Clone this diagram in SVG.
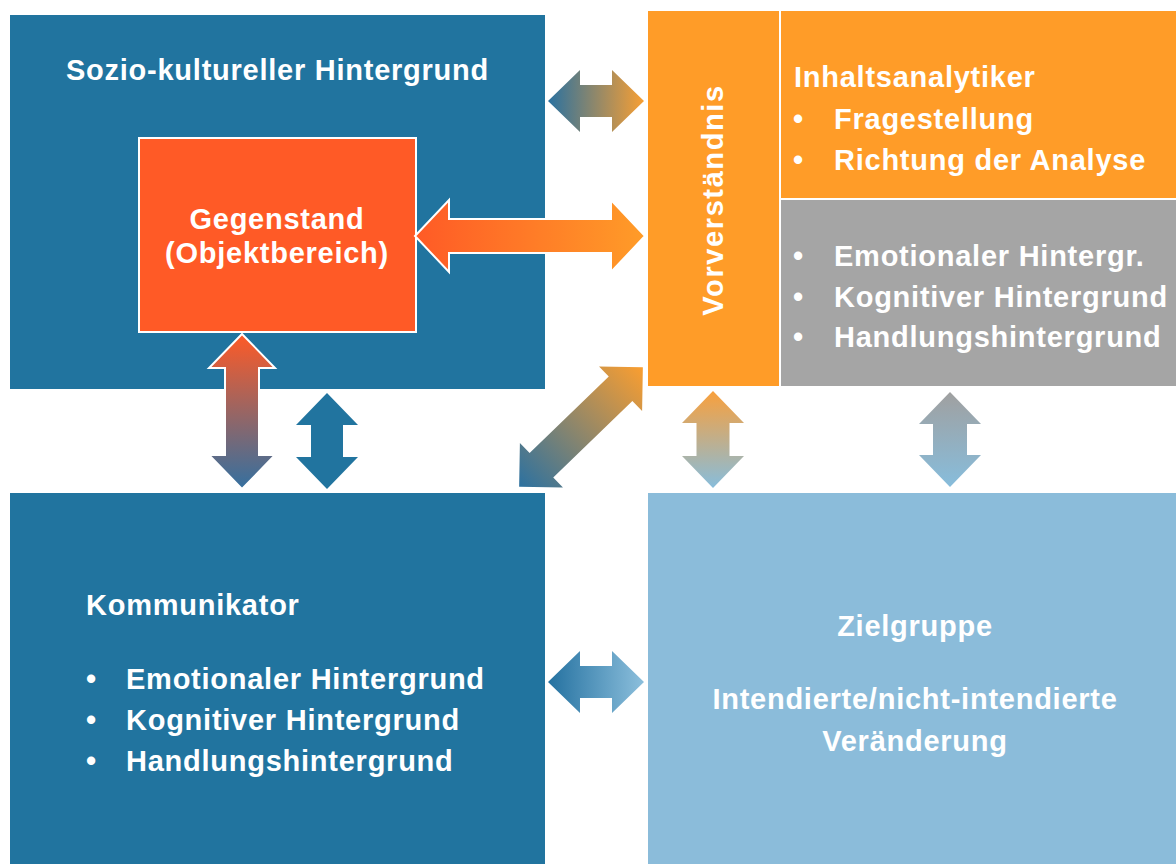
<svg xmlns="http://www.w3.org/2000/svg" width="1176" height="864" viewBox="0 0 1176 864">
<defs>
<style>
.t{font-family:"Liberation Sans",Arial,sans-serif;font-weight:bold;font-size:29px;fill:#fff;letter-spacing:0.75px}
.m{text-anchor:middle}
.box{stroke:#fff;stroke-width:2}
.blue{fill:#21749F}
.orange{fill:#FF9C28}
.grey{fill:#A5A5A5}
.light{fill:#8BBCDA}
.red{fill:#FF5A26}
</style>
<linearGradient id="g1" x1="0" y1="0" x2="1" y2="0"><stop offset="0" stop-color="#2A71A0"/><stop offset="1" stop-color="#F89F33"/></linearGradient>
<linearGradient id="g2" x1="0" y1="0" x2="1" y2="0"><stop offset="0" stop-color="#FF5A26"/><stop offset="1" stop-color="#FF9C28"/></linearGradient>
<linearGradient id="g3" x1="0" y1="0" x2="1" y2="0"><stop offset="0" stop-color="#FF5A26"/><stop offset="1" stop-color="#3470A0"/></linearGradient>
<linearGradient id="g5" x1="0" y1="0" x2="1" y2="0"><stop offset="0" stop-color="#2C71A0"/><stop offset="1" stop-color="#FA9E30"/></linearGradient>
<linearGradient id="g6" x1="0" y1="0" x2="1" y2="0"><stop offset="0" stop-color="#F9A03C"/><stop offset="1" stop-color="#87BDDC"/></linearGradient>
<linearGradient id="g7" x1="0" y1="0" x2="1" y2="0"><stop offset="0" stop-color="#A0A0A0"/><stop offset="1" stop-color="#87BDDC"/></linearGradient>
<linearGradient id="g8" x1="0" y1="0" x2="1" y2="0"><stop offset="0" stop-color="#2471A0"/><stop offset="1" stop-color="#8CBFDC"/></linearGradient>
</defs>
<rect width="1176" height="864" fill="#fff"/>

<g id="sozio">
<rect class="box blue" x="9" y="14" width="537" height="376"/>
<text class="t" x="66" y="80">Sozio-kultureller Hintergrund</text>
</g>

<g id="vorverstaendnis">
<rect class="box orange" x="647" y="10" width="133" height="377"/>
<text class="t m" transform="translate(723,200) rotate(-90)" style="letter-spacing:1.6px">Vorverständnis</text>
</g>

<g id="inhaltsanalytiker">
<rect class="box orange" x="780" y="10" width="398" height="189"/>
<text class="t" x="794" y="87">Inhaltsanalytiker</text>
<text class="t" x="793" y="129">•</text><text class="t" x="834" y="129">Fragestellung</text>
<text class="t" x="793" y="170">•</text><text class="t" x="834" y="170">Richtung der Analyse</text>
</g>

<g id="hintergrund">
<rect class="box grey" x="780" y="199" width="398" height="188"/>
<text class="t" x="793" y="266">•</text><text class="t" x="834" y="266">Emotionaler Hintergr.</text>
<text class="t" x="793" y="307">•</text><text class="t" x="834" y="307">Kognitiver Hintergrund</text>
<text class="t" x="793" y="347">•</text><text class="t" x="834" y="347">Handlungshintergrund</text>
</g>

<g id="kommunikator">
<rect class="box blue" x="9" y="492" width="537" height="374"/>
<text class="t" x="86" y="615">Kommunikator</text>
<text class="t" x="86" y="689">•</text><text class="t" x="126" y="689">Emotionaler Hintergrund</text>
<text class="t" x="86" y="730">•</text><text class="t" x="126" y="730">Kognitiver Hintergrund</text>
<text class="t" x="86" y="771">•</text><text class="t" x="126" y="771">Handlungshintergrund</text>
</g>

<g id="zielgruppe">
<rect class="box light" x="647" y="492" width="531" height="374"/>
<text class="t m" x="915" y="636">Zielgruppe</text>
<text class="t m" x="915" y="709">Intendierte/nicht-intendierte</text>
<text class="t m" x="915" y="751">Veränderung</text>
</g>

<g id="gegenstand">
<rect class="box red" x="139" y="138" width="277" height="194"/>
<text class="t m" x="277" y="229">Gegenstand</text>
<text class="t m" x="277" y="263">(Objektbereich)</text>
</g>

<g id="connectors">
<polygon transform="translate(596,101)" fill="url(#g1)" points="-48,0 -16,-31 -16,-16 16,-16 16,-31 48,0 16,31 16,16 -16,16 -16,31"/>
<polygon transform="translate(530,236)" fill="url(#g2)" stroke="#fff" stroke-width="2" stroke-linejoin="miter" points="-115,0 -81,-36 -81,-17 81,-17 81,-36 115,0 81,36 81,17 -81,17 -81,36"/>
<polygon transform="translate(242,411.5) rotate(90)" fill="url(#g3)" stroke="#fff" stroke-width="2" points="-77.5,0 -43.5,-33 -43.5,-17 43.5,-17 43.5,-33 77.5,0 43.5,33 43.5,17 -43.5,17 -43.5,33"/>
<polygon transform="translate(327,441) rotate(90)" fill="#21749F" points="-48,0 -16,-31 -16,-16 16,-16 16,-31 48,0 16,31 16,16 -16,16 -16,31"/>
<polygon transform="translate(581,427) rotate(-44)" fill="url(#g5)" points="-86,0 -55,-31 -55,-17 55,-17 55,-31 86,0 55,31 55,17 -55,17 -55,31"/>
<polygon transform="translate(713,439.5) rotate(90)" fill="url(#g6)" points="-48.5,0 -16.5,-31 -16.5,-16.5 16.5,-16.5 16.5,-31 48.5,0 16.5,31 16.5,16.5 -16.5,16.5 -16.5,31"/>
<polygon transform="translate(950,439.5) rotate(90)" fill="url(#g7)" points="-47.5,0 -15.5,-31 -15.5,-17 15.5,-17 15.5,-31 47.5,0 15.5,31 15.5,17 -15.5,17 -15.5,31"/>
<polygon transform="translate(596,682)" fill="url(#g8)" points="-48,0 -16,-31 -16,-16 16,-16 16,-31 48,0 16,31 16,16 -16,16 -16,31"/>
</g>
</svg>
